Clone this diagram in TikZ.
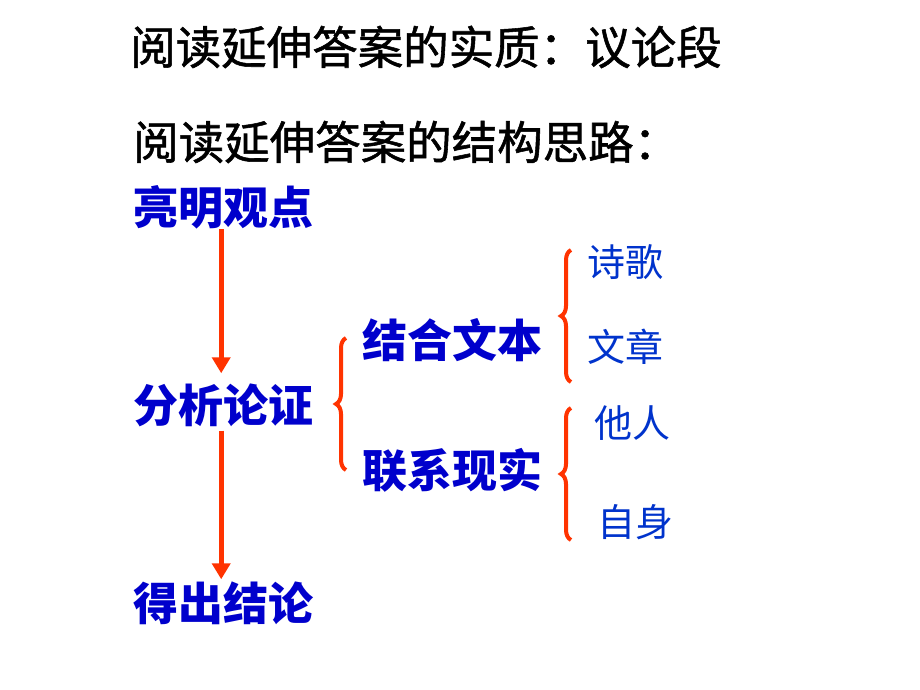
\documentclass[tikz,border=0pt]{standalone}
\usepackage{fontspec}
\newfontfamily\cjk{Noto Sans CJK SC}
\newfontfamily\cjkt[FakeBold=1.2]{Noto Sans CJK SC}
\usetikzlibrary{arrows.meta,decorations.pathreplacing}
\definecolor{tblue}{RGB}{0,0,204}
\definecolor{lblue}{RGB}{0,51,204}
\definecolor{tred}{RGB}{255,51,0}
\tikzset{
  title/.style={anchor=west,inner sep=0pt,font=\cjkt\fontsize{45.5}{50}\selectfont,text=black},
  mainlbl/.style={anchor=west,inner sep=0pt,font=\cjk\bfseries\fontsize{45}{50}\selectfont,text=tblue},
  sublbl/.style={anchor=west,inner sep=0pt,font=\cjk\fontsize{38}{42}\selectfont,text=lblue},
  arr/.style={draw=tred,line width=5pt,-{Triangle[width=18pt,length=16pt]}},
  bracestyle/.style={draw=tred,line width=4pt,decorate,decoration={brace,amplitude=10pt}}
}
\begin{document}
\begin{tikzpicture}[x=1pt,y=1pt]
\useasboundingbox[fill=white] (0,0) rectangle (920,690);
\node[title] (t1) at (130,643) {阅读延伸答案的实质：议论段};
\node[title] (t2) at (133,548) {阅读延伸答案的结构思路：};
\node[mainlbl] (n1) at (133,483) {亮明观点};
\node[mainlbl] (n2) at (133,285) {分析论证};
\node[mainlbl] (n3) at (133,87) {得出结论};
\node[mainlbl] (m1) at (362,350) {结合文本};
\node[mainlbl] (m2) at (362,220) {联系现实};
\node[sublbl] (s1) at (587,428) {诗歌};
\node[sublbl] (s2) at (587,343) {文章};
\node[sublbl] (s3) at (594,267) {他人};
\node[sublbl] (s4) at (597,168) {自身};
\draw[arr,shorten >=10pt] ([xshift=-2pt]n1.south) -- ([xshift=-2pt]n2.north);
\draw[arr,shorten <=4pt,shorten >=2pt] ([xshift=-2pt]n2.south) -- ([xshift=-2pt]n3.north);
\draw[bracestyle] (346,220) -- (346,352);
\draw[bracestyle] (571,308) -- (571,440);
\draw[bracestyle] (571,150) -- (571,282);
\end{tikzpicture}
\end{document}
